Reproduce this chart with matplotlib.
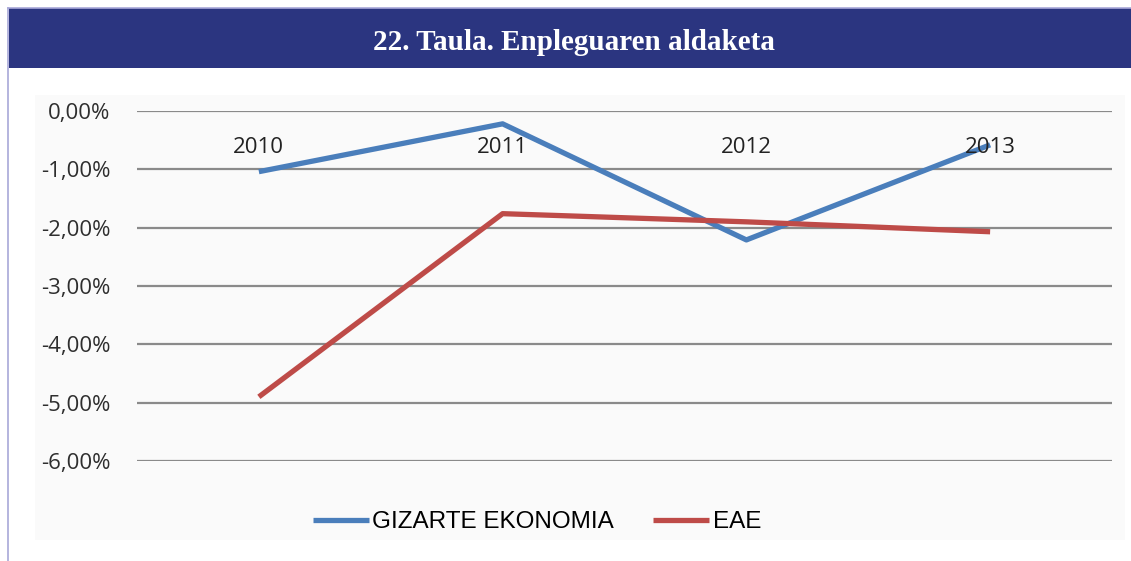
import matplotlib

matplotlib.use("Agg")
import matplotlib.pyplot as plt
from matplotlib.patches import Rectangle
from matplotlib.lines import Line2D

years = ["2010", "2011", "2012", "2013"]
gizarte_ekonomia = [-1.04, -0.22, -2.21, -0.58]
eae = [-4.90, -1.76, -1.90, -2.07]
y_ticks = [0, -1, -2, -3, -4, -5, -6]

W, H = 1131, 561
fig = plt.figure(figsize=(W / 100, H / 100), dpi=100)
fig.patch.set_facecolor("white")

# chart area (very light grey) and frame lines
fig.patches.append(Rectangle((35 / W, 1 - 540 / H), 1090 / W, 445 / H,
                             transform=fig.transFigure, facecolor="#FAFAFA",
                             edgecolor="none", zorder=-5))
fig.lines.append(Line2D([8 / W, 8 / W], [0, 1 - 8 / H], transform=fig.transFigure,
                        color="#A8A8D8", linewidth=1.2))
fig.lines.append(Line2D([8 / W, 1], [1 - 8 / H, 1 - 8 / H], transform=fig.transFigure,
                        color="#A8A8D8", linewidth=1.2))

# title bar
fig.patches.append(Rectangle((8.5 / W, 1 - 68 / H), 1 - 8.5 / W, 60 / H,
                             transform=fig.transFigure, facecolor="#2B3580",
                             edgecolor="none", zorder=1))
fig.text(574 / W, 1 - 42 / H, "22. Taula. Enpleguaren aldaketa", color="white",
         fontsize=21, fontweight="bold", family="Liberation Serif",
         ha="center", va="center")

ax = fig.add_axes([137 / W, 1 - 461 / H, 975 / W, 350 / H])
ax.set_zorder(2)
ax.set_facecolor("none")
x = list(range(len(years)))

ax.plot(x, gizarte_ekonomia, color="#4A7EBB", linewidth=3.8, solid_capstyle="butt",
        label="GIZARTE EKONOMIA", zorder=3, clip_on=False)
ax.plot(x, eae, color="#BE4B48", linewidth=3.8, solid_capstyle="butt",
        label="EAE", zorder=3, clip_on=False)

ax.set_xlim(-0.5, len(years) - 0.5)
ax.set_ylim(-6, 0)
ax.set_yticks(y_ticks)
ax.set_yticklabels([f"{v:.2f}%".replace(".", ",") for v in y_ticks],
                   fontsize=16, family="Open Sans", color="#2E2E2E")
ax.tick_params(axis="y", length=0, pad=19)
ax.set_xticks([])
ax.grid(axis="y", color="#8A8A8A", linewidth=1.6)
ax.set_axisbelow(True)
for spine in ax.spines.values():
    spine.set_visible(False)

# category labels sit just under the zero line
for i, year in enumerate(years):
    ax.text(i, -0.63, year, ha="center", va="center", fontsize=16,
            family="Open Sans", color="#222222", zorder=5)

fig.legend(loc="center", bbox_to_anchor=(537 / W, 1 - 522 / H), ncol=2,
           frameon=False, prop={"family": "Liberation Sans", "size": 17.5},
           handlelength=2.3, handletextpad=0.15, columnspacing=1.6)

fig.savefig("out.png", dpi=100)
